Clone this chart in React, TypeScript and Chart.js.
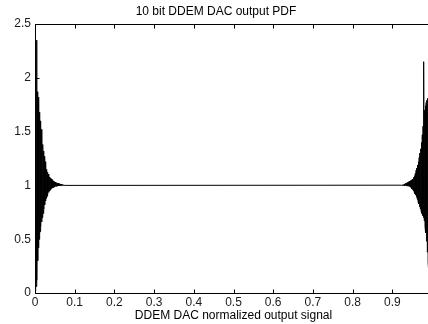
import React, { useEffect, useRef } from 'react';
import { Chart, registerables } from 'chart.js';

Chart.register(...registerables);

const TITLE = '10 bit DDEM DAC output PDF';
const X_LABEL = 'DDEM DAC normalized output signal';
const X_TICKS = [0, 0.1, 0.2, 0.3, 0.4, 0.5, 0.6, 0.7, 0.8, 0.9, 1];
const Y_TICKS = [0, 0.5, 1, 1.5, 2, 2.5];
const MAX_CODE = 1023;

// Low-code edge: pairs of (even code, odd code) values, starting at code 0
const LEFT_START_CODE = 0;
const leftUpper = [
  1.8, 2.0, 2.35, 1.87, 1.82, 1.76, 1.68, 1.6, 1.52, 1.45,
  1.38, 1.32, 1.27, 1.22, 1.18, 1.15, 1.125, 1.105, 1.09, 1.078,
  1.068, 1.06, 1.052, 1.046, 1.04, 1.035, 1.031, 1.027, 1.024, 1.021,
  1.018, 1.016, 1.014, 1.012, 1.01, 1.008, 1.006, 1.005, 1.003, 1.002,
];
const leftLower = [
  0.02, 0.06, 0.12, 0.3, 0.42, 0.5, 0.57, 0.62, 0.66, 0.7,
  0.74, 0.78, 0.82, 0.855, 0.88, 0.9, 0.92, 0.935, 0.948, 0.958,
  0.965, 0.972, 0.977, 0.981, 0.985, 0.988, 0.99, 0.992, 0.994, 0.995,
  0.996, 0.997, 0.998, 0.998, 0.999, 0.999, 1.0, 1.0, 1.0, 1.0,
];

// High-code edge: pairs of (even code, odd code) values, starting at code 944
const RIGHT_START_CODE = 944;
const rightUpper = [
  1.002, 1.004, 1.006, 1.008, 1.012, 1.016, 1.02, 1.024, 1.028, 1.032,
  1.036, 1.04, 1.045, 1.05, 1.055, 1.06, 1.075, 1.09, 1.11, 1.14,
  1.16, 1.19, 1.22, 1.26, 1.3, 1.34, 1.4, 1.47, 1.55, 2.15,
  1.7, 1.74, 1.77, 1.79, 1.81, 1.9, 2.0, 2.1, 2.2, 2.3,
];
const rightLower = [
  1.0, 1.0, 0.999, 0.999, 0.998, 0.998, 0.997, 0.996, 0.995, 0.993,
  0.99, 0.985, 0.98, 0.97, 0.96, 0.95, 0.94, 0.925, 0.91, 0.89,
  0.87, 0.85, 0.83, 0.8, 0.78, 0.76, 0.74, 0.72, 0.7, 0.67,
  0.62, 0.56, 0.48, 0.38, 0.28, 0.2, 0.12, 0.06, 0.03, 0.0,
];

function edgePoints(start: number, upper: number[], lower: number[]) {
  const pts: { x: number; y: number }[] = [];
  for (let j = 0; j < upper.length; j++) {
    const code = start + 2 * j;
    pts.push({ x: code / MAX_CODE, y: upper[j] });
    pts.push({ x: (code + 1) / MAX_CODE, y: lower[j] });
  }
  return pts;
}

const framePlugin = {
  id: 'matlabFrame',
  afterDatasetsDraw(chart: any) {
    const { ctx, chartArea: a, scales } = chart;
    const L = Math.floor(a.left) + 0.5;
    const R = Math.floor(a.right) + 0.5;
    const T = Math.floor(a.top) + 0.5;
    const B = Math.floor(a.bottom) + 0.5;
    ctx.save();
    ctx.strokeStyle = '#000';
    ctx.lineWidth = 1;
    ctx.strokeRect(L, T, R - L, B - T);
    ctx.beginPath();
    const tl = 4;
    X_TICKS.forEach((v) => {
      const px = Math.round(scales.x.getPixelForValue(v)) + 0.5;
      ctx.moveTo(px, B);
      ctx.lineTo(px, B - tl);
      ctx.moveTo(px, T);
      ctx.lineTo(px, T + tl);
    });
    Y_TICKS.forEach((v) => {
      const py = Math.round(scales.y.getPixelForValue(v)) + 0.5;
      ctx.moveTo(L, py);
      ctx.lineTo(L + tl, py);
      ctx.moveTo(R, py);
      ctx.lineTo(R - tl, py);
    });
    ctx.stroke();
    ctx.restore();
  },
};

export default function App() {
  const canvasRef = useRef<HTMLCanvasElement | null>(null);

  useEffect(() => {
    if (!canvasRef.current) return;
    const data = [
      ...edgePoints(LEFT_START_CODE, leftUpper, leftLower),
      ...edgePoints(RIGHT_START_CODE, rightUpper, rightLower),
    ];
    const font = { family: '"Liberation Sans", Arial, sans-serif', size: 12 };
    const chart = new Chart(canvasRef.current, {
      type: 'line',
      data: {
        datasets: [
          {
            data,
            borderColor: '#000',
            borderWidth: 1,
            pointRadius: 0,
            tension: 0,
            fill: false,
          },
        ],
      },
      plugins: [framePlugin],
      options: {
        animation: false,
        responsive: true,
        maintainAspectRatio: false,
        layout: { padding: { left: 0, right: 8, top: 0, bottom: 0 } },
        plugins: {
          legend: { display: false },
          tooltip: { enabled: false },
          title: {
            display: true,
            text: TITLE,
            color: '#000',
            font: { ...font, weight: 'normal' },
            padding: { top: 4, bottom: 5.6 },
          },
        },
        scales: {
          x: {
            type: 'linear',
            min: 0,
            max: 1,
            grid: { display: false, drawTicks: false },
            border: { display: false },
            afterBuildTicks: (s: any) => {
              s.ticks = X_TICKS.map((v) => ({ value: v }));
            },
            afterFit: (s: any) => {
              s.height = 31;
            },
            ticks: {
              autoSkip: false,
              maxRotation: 0,
              padding: 2,
              color: '#1a1a1a',
              font,
              callback: (v: any) => (v >= 1 ? '' : String(Number(Number(v).toFixed(1)))),
            },
            title: {
              display: true,
              text: X_LABEL,
              color: '#000',
              font,
              padding: { top: 0, bottom: 1 },
            },
          },
          y: {
            type: 'linear',
            min: 0,
            max: 2.5,
            grid: { display: false, drawTicks: false },
            border: { display: false },
            afterBuildTicks: (s: any) => {
              s.ticks = Y_TICKS.map((v) => ({ value: v }));
            },
            afterFit: (s: any) => {
              s.width = 35;
            },
            ticks: {
              padding: 4,
              color: '#1a1a1a',
              font,
              callback: (v: any) => String(v),
            },
          },
        },
      },
    });
    return () => chart.destroy();
  }, []);

  return (
    <div
      style={{
        position: 'fixed',
        left: 0,
        top: 0,
        width: 428,
        height: 324,
        overflow: 'hidden',
        background: '#fff',
      }}
    >
      <div style={{ position: 'relative', width: 440, height: 324 }}>
        <canvas ref={canvasRef} />
      </div>
    </div>
  );
}
